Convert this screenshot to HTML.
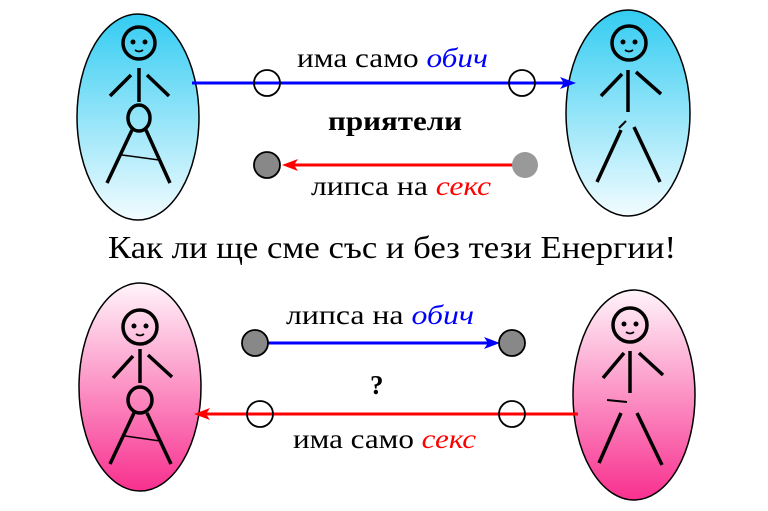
<!DOCTYPE html>
<html><head><meta charset="utf-8"><style>html,body{margin:0;padding:0;background:#fff}svg{display:block}</style></head><body>
<svg width="768" height="511" viewBox="0 0 768 511" xmlns="http://www.w3.org/2000/svg" font-family="Liberation Serif, serif">
<defs>
<linearGradient id="b" x1="0" y1="0" x2="0" y2="1"><stop offset="0" stop-color="#33ccf2"/><stop offset="1" stop-color="#f2fcff"/></linearGradient>
<linearGradient id="p" x1="0" y1="0" x2="0" y2="1"><stop offset="0" stop-color="#fff4fa"/><stop offset="1" stop-color="#f8308f"/></linearGradient>
</defs>
<g stroke="#000" stroke-width="1.5">
<ellipse cx="138" cy="117" rx="61" ry="103" fill="url(#b)"/>
<ellipse cx="628" cy="113" rx="62" ry="103" fill="url(#b)"/>
<ellipse cx="140" cy="387" rx="61" ry="104" fill="url(#p)"/>
<ellipse cx="634" cy="395" rx="61" ry="105" fill="url(#p)"/>
</g>
<g stroke="#000" stroke-width="3.5" fill="none" stroke-linecap="butt">
<circle cx="139" cy="43" r="16"/><line x1="139" y1="68" x2="139" y2="102"/>
<line x1="110" y1="96" x2="131" y2="75"/><line x1="147" y1="75" x2="169" y2="96"/>
<ellipse cx="139" cy="118" rx="11" ry="13"/>
<line x1="132" y1="130" x2="107" y2="183"/><line x1="146" y1="130" x2="170" y2="183"/>
<line x1="122" y1="155" x2="159" y2="160" stroke-width="1.5"/>
<circle cx="629" cy="43" r="17"/><line x1="628" y1="70" x2="628" y2="112"/>
<line x1="601" y1="96" x2="622" y2="74"/><line x1="636" y1="72" x2="661" y2="94"/>
<line x1="619" y1="128" x2="626" y2="121" stroke-width="2"/>
<line x1="621" y1="130" x2="597" y2="182"/><line x1="634" y1="127" x2="660" y2="182"/>
<circle cx="140" cy="327" r="17"/><line x1="140" y1="349" x2="140" y2="383"/>
<line x1="113" y1="378" x2="133" y2="356"/><line x1="148" y1="355" x2="172" y2="377"/>
<ellipse cx="140" cy="400" rx="12" ry="13"/>
<line x1="134" y1="413" x2="110" y2="464"/><line x1="147" y1="413" x2="171" y2="464"/>
<line x1="125" y1="436" x2="160" y2="441" stroke-width="1.5"/>
<circle cx="630" cy="325" r="17"/><line x1="630" y1="351" x2="630" y2="393"/>
<line x1="603" y1="378" x2="624" y2="353"/><line x1="639" y1="353" x2="663" y2="375"/>
<line x1="607" y1="400" x2="627" y2="402" stroke-width="2"/>
<line x1="621" y1="413" x2="599" y2="463"/><line x1="637" y1="413" x2="662" y2="465"/>
</g>
<g fill="#000">
<circle cx="133" cy="42" r="2.5"/><circle cx="145" cy="42" r="2.5"/>
<circle cx="623" cy="42" r="2.5"/><circle cx="635" cy="42" r="2.5"/>
<circle cx="134" cy="326" r="2.5"/><circle cx="146" cy="326" r="2.5"/>
<circle cx="624" cy="324" r="2.5"/><circle cx="636" cy="324" r="2.5"/>
</g>
<g stroke="#000" stroke-width="1.8" fill="none">
<path d="M135 50 Q139 53 143 50"/><path d="M625 50 Q629 53 633 50"/>
<path d="M136 334 Q140 337 144 334"/><path d="M626 332 Q630 335 634 332"/>
</g>
<line x1="192" y1="83" x2="570" y2="83" stroke="#00f" stroke-width="3"/>
<path d="M576 83 L560 77 L564 83 L560 89 Z" fill="#00f"/>
<circle cx="267" cy="83" r="13" fill="none" stroke="#000" stroke-width="1.8"/>
<circle cx="522" cy="83" r="13" fill="none" stroke="#000" stroke-width="1.8"/>
<line x1="288" y1="165" x2="525" y2="165" stroke="#f00" stroke-width="3"/>
<path d="M282 165 L298 159 L294 165 L298 171 Z" fill="#f00"/>
<circle cx="267" cy="165" r="13" fill="#888" stroke="#000" stroke-width="1.8"/>
<circle cx="525" cy="165" r="13" fill="#999"/>
<line x1="255" y1="343" x2="494" y2="343" stroke="#00f" stroke-width="3"/>
<path d="M500 343 L484 337 L488 343 L484 349 Z" fill="#00f"/>
<circle cx="255" cy="343" r="13" fill="#888" stroke="#000" stroke-width="1.8"/>
<circle cx="512" cy="343" r="13" fill="#888" stroke="#000" stroke-width="1.8"/>
<line x1="200" y1="414" x2="578" y2="414" stroke="#f00" stroke-width="3"/>
<path d="M194 414 L210 408 L206 414 L210 420 Z" fill="#f00"/>
<circle cx="260" cy="414" r="13" fill="none" stroke="#000" stroke-width="1.8"/>
<circle cx="512" cy="414" r="13" fill="none" stroke="#000" stroke-width="1.8"/>
<g font-size="27">
<text x="297" y="67" textLength="191" lengthAdjust="spacingAndGlyphs">има само <tspan fill="#00f" font-style="italic">обич</tspan></text>
<text x="328" y="130" font-weight="bold" textLength="134" lengthAdjust="spacingAndGlyphs">приятели</text>
<text x="311" y="195" textLength="180" lengthAdjust="spacingAndGlyphs">липса на <tspan fill="#f00" font-style="italic">секс</tspan></text>
<text x="108" y="258" font-size="32" textLength="568" lengthAdjust="spacingAndGlyphs">Как ли ще сме със и без тези Енергии!</text>
<text x="286" y="324" textLength="188" lengthAdjust="spacingAndGlyphs">липса на <tspan fill="#00f" font-style="italic">обич</tspan></text>
<text x="370" y="394" font-weight="bold">?</text>
<text x="293" y="448" textLength="183" lengthAdjust="spacingAndGlyphs">има само <tspan fill="#f00" font-style="italic">секс</tspan></text>
</g>
</svg>
</body></html>
